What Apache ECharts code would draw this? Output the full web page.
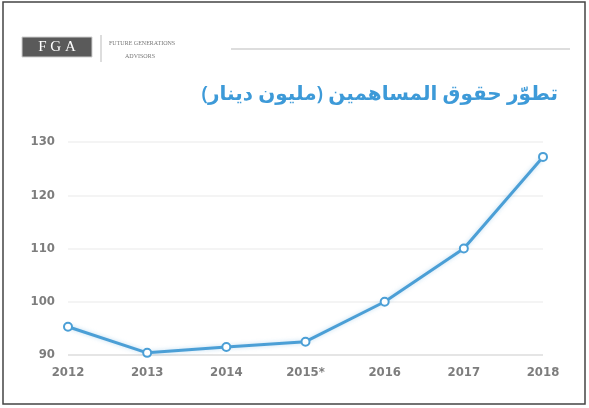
<!DOCTYPE html>
<html><head><meta charset="utf-8">
<style>html,body{margin:0;padding:0;background:#fff;}#c{width:589px;height:408px;}</style>
<script src="https://cdn.jsdelivr.net/npm/echarts@6/dist/echarts.min.js"></script>
</head><body><div id="c"></div>
<script>
const categories = ['2012','2013','2014','2015*','2016','2017','2018'];
const values = [95.3, 90.4, 91.5, 92.5, 100, 110, 127.2];
const title = 'تطوّر حقوق المساهمين (مليون دينار)';
const yMin = 90, yMax = 130, yInterval = 10;

const chart = echarts.init(document.getElementById('c'));
const labelFont = '"DejaVu Sans Condensed",sans-serif';
chart.setOption({
  backgroundColor: '#fff',
  animation: false,
  grid: {left: 68, right: 46, top: 142, bottom: 53},
  xAxis: {
    type: 'category', data: categories, boundaryGap: false,
    axisLine: {show: false}, axisTick: {show: false},
    axisLabel: {color: '#7d7d7d', fontSize: 13, fontWeight: 'bold', fontFamily: labelFont, margin: 11}
  },
  yAxis: {
    type: 'value', min: yMin, max: yMax, interval: yInterval,
    axisLine: {show: false}, axisTick: {show: false},
    axisLabel: {color: '#7d7d7d', fontSize: 13, fontWeight: 'bold', fontFamily: labelFont, margin: 13},
    splitLine: {lineStyle: {color: ['#dcdcdc','#f0f0f0','#f0f0f0','#f0f0f0','#f0f0f0'], width: 1.5}}
  },
  series: [{
    type: 'line', data: values,
    symbol: 'circle', symbolSize: 8,
    lineStyle: {color: '#4b9fd6', width: 3, shadowColor: 'rgba(75,159,214,0.35)', shadowBlur: 4},
    itemStyle: {color: '#ffffff', borderColor: '#4b9fd6', borderWidth: 2}
  }],
  graphic: [
    {type: 'rect', shape: {x: 3, y: 2, width: 582, height: 402}, style: {fill: 'none', stroke: '#444', lineWidth: 1.5}, z: 10},
    {type: 'rect', shape: {x: 22, y: 37, width: 70, height: 20}, style: {fill: '#5a5a5a', stroke: '#cfcfcf', lineWidth: 1}},
    {type: 'text', x: 57, y: 47, style: {text: 'F G A', fill: '#fff', font: '15px "Liberation Serif",serif', textAlign: 'center', textVerticalAlign: 'middle'}},
    {type: 'line', shape: {x1: 101, y1: 35, x2: 101, y2: 62}, style: {stroke: '#bbb', lineWidth: 1}},
    {type: 'text', x: 109, y: 43, style: {text: 'FUTURE GENERATIONS', fill: '#777', font: '6px "Liberation Serif",serif', textVerticalAlign: 'middle'}},
    {type: 'text', x: 125, y: 56, style: {text: 'ADVISORS', fill: '#777', font: '6px "Liberation Serif",serif', textVerticalAlign: 'middle'}},
    {type: 'line', shape: {x1: 231, y1: 49, x2: 570, y2: 49}, style: {stroke: '#bbb', lineWidth: 1}},
    {type: 'text', x: 558, y: 94, style: {text: title, fill: '#3d9ad8', font: '600 20px "Noto Sans","DejaVu Sans",sans-serif', textAlign: 'right', textVerticalAlign: 'middle'}}
  ]
});
</script></body></html>
